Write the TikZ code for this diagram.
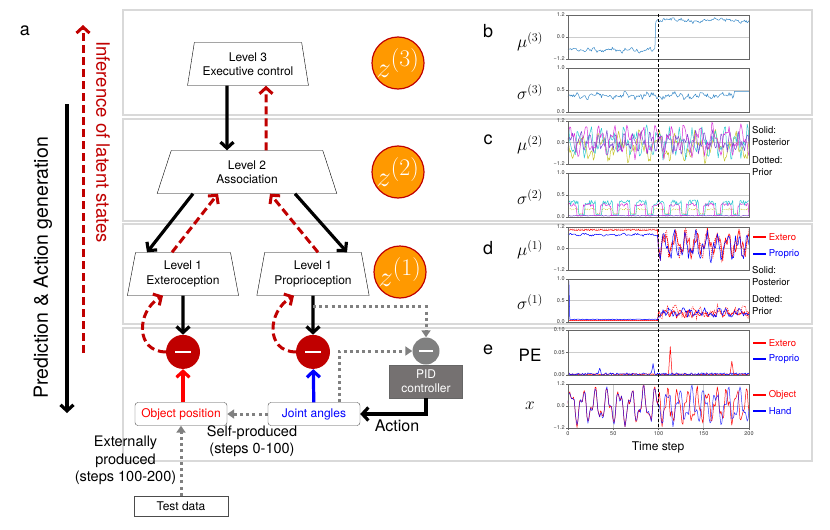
\documentclass[tikz,border=0pt]{standalone}
\usepackage{graphicx}
\usepackage{fontspec}
\setmainfont{TeX Gyre Heros}
\usepackage{tikz}
\usetikzlibrary{shapes.geometric}
\usetikzlibrary{arrows.meta, positioning}
\definecolor{darkred}{HTML}{C00000}
\definecolor{zorange}{HTML}{FF9900}
\definecolor{pidgray}{HTML}{757171}
\definecolor{muthree}{HTML}{3B8BC8}
\definecolor{cmag}{HTML}{D62AD6}
\definecolor{ccyan}{HTML}{2CC7D0}
\definecolor{colive}{HTML}{C4C42A}
\definecolor{cpurp}{HTML}{7A3FD0}
\newcommand{\zlab}[1]{\scalebox{1.15}{$z^{(#1)}$}}
\newcommand{\yticks}[3]{%
  \draw[axis] (0,1) -- ++(-2pt,0) node[tick, left] {#1};
  \draw[axis] (0,0.5) -- ++(-2pt,0) node[tick, left] {#2};
  \draw[axis] (0,0) -- ++(-2pt,0) node[tick, left] {#3};}

\begin{document}
\begin{tikzpicture}[x=1pt, y=-1pt,
    level/.style={trapezium, draw, trapezium left angle=77, trapezium right angle=77, trapezium stretches=true, minimum height=43pt, align=center, inner sep=1pt, font=\fontsize{12}{14.5}\selectfont},
    zstate/.style={circle, fill=zorange, draw=darkred, line width=1.2pt, minimum size=52pt, inner sep=0pt, text=white, font=\fontsize{24.88}{25}\selectfont},
    err/.style={circle, fill=darkred, minimum size=34pt, inner sep=0pt, path picture={\draw[white, line width=2.5pt] ([xshift=-8pt]path picture bounding box.center)--([xshift=8pt]path picture bounding box.center);}},
    cmpnode/.style={circle, fill=gray, minimum size=27pt, inner sep=0pt, path picture={\draw[white, line width=2pt] ([xshift=-7pt]path picture bounding box.center)--([xshift=7pt]path picture bounding box.center);}},
    pid/.style={rectangle, fill=pidgray, draw=black!60, text=white, minimum width=73pt, minimum height=33pt, align=center, inner sep=1pt, font=\fontsize{12}{14}\selectfont},
    sensor/.style={rectangle, rounded corners=3pt, draw=black!70, minimum width=92pt, minimum height=23pt, inner sep=1pt, font=\fontsize{12}{14}\selectfont},
    note/.style={align=center, font=\fontsize{14.5}{17.5}\selectfont},
    pred/.style={line width=3.2pt, -{Straight Barb[length=6pt, width=13pt]}},
    infer/.style={draw=darkred, line width=3pt, dash pattern=on 8pt off 4pt, -{Straight Barb[length=6pt, width=13pt]}},
    obs/.style={line width=3.2pt, -{Straight Barb[length=6pt, width=13pt]}},
    efc/.style={draw=gray, line width=3pt, dash pattern=on 3pt off 3.2pt, -{Triangle[length=7pt, width=9pt]}},
    panel/.style={draw=black!15, line width=1.2pt},
    axis/.style={draw=black!60, line width=0.8pt},
    grid/.style={draw=black!20, line width=0.6pt},
    data/.style={line width=0.5pt, line join=round},
    prior/.style={line width=0.5pt, dash pattern=on 1pt off 1pt},
    tick/.style={inner sep=1pt, font=\fontsize{5.5}{6}\selectfont, text=black!80},
    plab/.style={font=\fontsize{18}{18}\selectfont},
    varlab/.style={font=\fontsize{17}{17}\selectfont},
    legend/.style={right, inner sep=2pt, font=\fontsize{9.5}{12.5}\selectfont},
    note2/.style={anchor=west, align=left, inner sep=0pt, font=\fontsize{9.5}{12.5}\selectfont}
    ]
\useasboundingbox (0,0) rectangle (830,530);
\pgfmathsetseed{11}

% panel frames
\foreach \t/\b in {10/115, 119/221, 224/324, 328/461}
  \draw[panel] (123,\t) rectangle (812,\b);

% a: network
\node[plab] (tag) at (25,31) {a};
\coordinate (pa) at (67,104);
\coordinate (pb) at (67,413);
\draw[pred] (pa) -- (pb);
\node[rotate=90, font=\fontsize{19.5}{20}\selectfont] (predtxt) at (43,268) {Prediction \& Action generation};
\coordinate (ia) at (83,353);
\coordinate (ib) at (83,25);
\draw[infer] (ia) -- (ib);
\node[rotate=-90, text=darkred, font=\fontsize{18.5}{19}\selectfont] (inftxt) at (103,142) {Inference of latent states};

\node[level, minimum width=121pt] (lv3) at (248,64) {Level 3\\Executive control};
\node[level, minimum width=180pt] (lv2) at (247,172) {Level 2\\Association};
\node[level, minimum width=112pt] (ext) at (183,274) {Level 1\\Exteroception};
\node[level, minimum width=113pt] (prop) at (313,274) {Level 1\\Proprioception};

\node[zstate] (z3) at (398,63) {\zlab{3}};
\node[zstate] (z2) at (398,172) {\zlab{2}};
\node[zstate] (z1) at (400,272) {\zlab{1}};

\node[err, below=39pt of ext] (eext) {};
\node[err, below=39pt of prop] (eprop) {};
\node[cmpnode] (cmp) at (426,351) {};
\node[pid, below=0pt of cmp] (ctrl) {PID\\controller};

\node[sensor, text=red] (obj) at (181,414) {Object position};
\node[sensor, text=blue] (joint) at (314,414) {Joint angles};
\node[draw=black!70, minimum width=94pt, minimum height=20pt, inner sep=1pt, font=\fontsize{12}{14}\selectfont] (test) at (181,506) {Test data};

\draw[pred] ([xshift=-21pt]lv3.south) -- ([xshift=-20pt]lv2.north);
\draw[infer] ([xshift=19pt]lv2.north) -- ([xshift=18pt]lv3.south);
\draw[pred] ([xshift=-54pt]lv2.south) -- ([xshift=-36pt]ext.north);
\draw[infer] ([xshift=-11pt]ext.north) -- ([xshift=-29pt]lv2.south);
\draw[infer] ([xshift=5pt]prop.north) -- ([xshift=23pt]lv2.south);
\draw[pred] ([xshift=48pt]lv2.south) -- ([xshift=34pt]prop.north);

\draw[pred] (ext) -- (eext);
\draw[pred] (prop) -- (eprop);
\draw[infer] (eext.west) to[out=180, in=210, looseness=1.4] ([xshift=-20pt]ext.south);
\draw[infer] (eprop.west) to[out=180, in=210, looseness=1.4] ([xshift=-19pt]prop.south);
\draw[obs, red] (obj.north -| eext.south) -- (eext.south);
\draw[obs, blue] (joint) -- (eprop);
\draw[efc] ([yshift=-11pt]prop.south) -| (cmp);
\draw[efc] ([xshift=25pt]joint.north) |- (cmp);
\draw[efc] (joint) -- (obj);
\draw[efc] (test) -- node[note, left]{Externally\\produced\\(steps 100-200)} (obj);
\draw[pred] (ctrl) |- node[pos=0.72, below=1pt, font=\fontsize{16}{16}\selectfont]{Action} (joint);
\node[note] (self) at (252,441) {Self-produced\\(steps 0-100)};

% b-e: time series
\node[plab] at (488,31) {b};
\node[plab] at (488,140) {c};
\node[plab] at (488,248) {d};
\node[plab] at (488,350) {e};
\node[varlab] at (530,42) {$\mu^{(3)}$};
\node[varlab] at (530,92) {$\sigma^{(3)}$};
\node[varlab] at (530,145) {$\mu^{(2)}$};
\node[varlab] at (530,197) {$\sigma^{(2)}$};
\node[varlab] at (530,250) {$\mu^{(1)}$};
\node[varlab] at (530,302) {$\sigma^{(1)}$};
\node[varlab] at (530,355) {$\mathrm{PE}$};
\node[varlab] at (530,406) {$x$};

% mu3
\begin{scope}[shift={(568pt,-59pt)}, x=0.905pt, y=44pt]
  \draw[grid] (0,0.5) -- (200,0.5);
  \draw[muthree, data] plot[domain=0:200, samples=201, variable=\t] (\t, {ifthenelse(\t<97, 0.2+0.03*rand+0.025*sin(17*\t)+0.02*sin(53*\t), 0.88+0.03*rand+0.03*sin(7*\t)+0.02*sin(41*\t))});
  \draw[axis] (0,0) rectangle (200,1);
  \yticks{1.2}{0.0}{−1.2}
\end{scope}
% sigma3
\begin{scope}[shift={(568pt,-112pt)}, x=0.905pt, y=44pt]
  \draw[grid] (0,0.5) -- (200,0.5);
  \draw[muthree, data] plot[domain=0:200, samples=201, variable=\t] (\t, {ifthenelse(\t>183, 0.47, 0.37+0.05*rand+0.03*sin(13*\t)+0.03*sin(47*\t))});
  \draw[axis] (0,0) rectangle (200,1);
  \yticks{1.0}{0.5}{0.0}
\end{scope}
% mu2
\begin{scope}[shift={(568pt,-164pt)}, x=0.905pt, y=43pt]
  \draw[grid] (0,0.5) -- (200,0.5);
  \draw[colive, data] plot[domain=0:200, samples=201, variable=\t] (\t, {0.4+0.22*sin(17*\t+200)+0.12*sin(47*\t)+0.1*rand});
  \draw[ccyan, data] plot[domain=0:200, samples=201, variable=\t] (\t, {0.5+0.22*sin(29*\t+100)+0.13*sin(71*\t+40)+0.1*rand});
  \draw[cpurp, data] plot[domain=0:200, samples=201, variable=\t] (\t, {0.5+0.15*sin(37*\t+300)+0.1*sin(77*\t)+0.08*rand});
  \draw[cmag, data] plot[domain=0:200, samples=201, variable=\t] (\t, {0.55+0.25*sin(23*\t+10)+0.13*sin(57*\t)+0.08*rand});
  \draw[axis] (0,0) rectangle (200,1);
  \yticks{1.2}{0.0}{−1.2}
\end{scope}
% sigma2
\begin{scope}[shift={(568pt,-217pt)}, x=0.905pt, y=44pt]
  \draw[grid] (0,0.5) -- (200,0.5);
  \draw[colive, prior] plot[domain=0:200, samples=201, variable=\t] (\t, {ifthenelse(mod(\t,19)<12, 0.18+0.02*rand, 0.08)});
  \draw[cpurp, data] plot[domain=0:200, samples=201, variable=\t] (\t, {0.03+0.01*rand});
  \draw[cmag, data] plot[domain=0:200, samples=201, variable=\t] (\t, {ifthenelse(mod(\t+2,19)<12, 0.28+0.04*rand, 0.03)});
  \draw[ccyan, data] plot[domain=0:200, samples=201, variable=\t] (\t, {ifthenelse(mod(\t,19)<12, 0.33+0.06*rand, 0.05+0.01*rand)});
  \draw[axis] (0,0) rectangle (200,1);
  \yticks{1.0}{0.5}{0.0}
\end{scope}
% mu1
\begin{scope}[shift={(568pt,-270pt)}, x=0.905pt, y=43pt]
  \draw[grid] (0,0.5) -- (200,0.5);
  \draw[red, prior] plot[domain=0:200, samples=201, variable=\t] (\t, {ifthenelse(\t<100, 0.95, 0.6+0.22*sin(31*\t+15)+0.12*sin(67*\t)+0.1*rand)});
  \draw[red, data] plot[domain=0:200, samples=201, variable=\t] (\t, {ifthenelse(\t<100, 0.93+0.015*rand, 0.62+0.2*sin(31*\t)+0.12*sin(73*\t+20)+0.1*rand)});
  \draw[blue, data] plot[domain=0:200, samples=201, variable=\t] (\t, {ifthenelse(\t<100, 0.82+0.02*rand+0.02*sin(25*\t), 0.55+0.22*sin(31*\t+40)+0.12*sin(59*\t)+0.1*rand)});
  \draw[axis] (0,0) rectangle (200,1);
  \yticks{1.2}{0.0}{−1.2}
\end{scope}
% sigma1
\begin{scope}[shift={(568pt,-322pt)}, x=0.905pt, y=43pt]
  \draw[grid] (0,0.5) -- (200,0.5);
  \draw[red, prior] plot[domain=0:200, samples=201, variable=\t] (\t, {ifthenelse(\t<100, 0.04, 0.15+0.2*abs(sin(19*\t)*sin(7*\t))+0.08*rand)});
  \draw[red, data] plot[domain=0:200, samples=201, variable=\t] (\t, {ifthenelse(\t<100, 0.03, 0.12+0.12*abs(sin(21*\t))+0.05*rand)});
  \draw[blue, data] plot[domain=0:200, samples=201, variable=\t] (\t, {ifthenelse(\t<1.5, 0.95, ifthenelse(\t<100, 0.06+0.01*rand, 0.15+0.15*abs(sin(23*\t+30)*sin(9*\t))+0.06*rand))});
  \draw[axis] (0,0) rectangle (200,1);
  \yticks{1.0}{0.5}{0.0}
\end{scope}
% PE
\begin{scope}[shift={(568pt,-375pt)}, x=0.905pt, y=45pt]
  \draw[grid] (0,0.5) -- (200,0.5);
  \draw[red, data] plot[domain=0:200, samples=201, variable=\t] (\t, {0.03*abs(rand)+0.6*max(0,1-abs(\t-113)/2)+0.3*max(0,1-abs(\t-181)/2)});
  \draw[blue, data] plot[domain=0:200, samples=201, variable=\t] (\t, {0.05*abs(rand)+0.25*max(0,1-abs(\t-94)/2)+0.12*max(0,1-abs(\t-35)/2)});
  \draw[axis] (0,0) rectangle (200,1);
  \yticks{0.10}{0.05}{0.00}
\end{scope}
% x
\begin{scope}[shift={(568pt,-428pt)}, x=0.905pt, y=44pt]
  \draw[grid] (0,0.5) -- (200,0.5);
  \foreach \v in {50,100,150} \draw[grid] (\v,0) -- (\v,1);
  \draw[red, data] plot[domain=0:200, samples=201, variable=\t] (\t, {ifthenelse(\t<100, 0.5+0.3*sin(27*\t)+0.15*sin(61*\t+30)+0.05*rand, 0.5+0.3*sin(33*\t+60)+0.15*sin(79*\t)+0.06*rand)});
  \draw[blue, data, opacity=0.8] plot[domain=0:200, samples=201, variable=\t] (\t, {0.5+0.3*sin(27*\t)+0.15*sin(61*\t+30)+0.05*rand});
  \draw[axis] (0,0) rectangle (200,1);
  \yticks{1.2}{0.0}{−1.2}
  \foreach \v in {0,50,100,150,200} \draw[axis] (\v,0) -- ++(0,-2pt) node[tick, below] {\v};
\end{scope}
\node[font=\fontsize{12}{12}\selectfont] (tstep) at (658,447) {Time step};
\draw[line width=0.9pt, dash pattern=on 3pt off 2pt] (658.5,14) -- (658.5,429);

% legends
\node[note2] at (752,136) {Solid:\\Posterior};
\node[note2] at (752,166) {Dotted:\\Prior};
\draw[red, line width=1.5pt] (753,237) -- (766,237) node[legend] {Extero};
\draw[blue, line width=1.5pt] (753,254) -- (766,254) node[legend] {Proprio};
\node[note2] at (752,276) {Solid:\\Posterior};
\node[note2] at (752,305) {Dotted:\\Prior};
\draw[red, line width=1.5pt] (753,343) -- (766,343) node[legend] {Extero};
\draw[blue, line width=1.5pt] (753,359) -- (766,359) node[legend] {Proprio};
\draw[red, line width=1.5pt] (753,395) -- (766,395) node[legend] {Object};
\draw[blue, line width=1.5pt] (753,411) -- (766,411) node[legend] {Hand};
\end{tikzpicture}
\end{document}
